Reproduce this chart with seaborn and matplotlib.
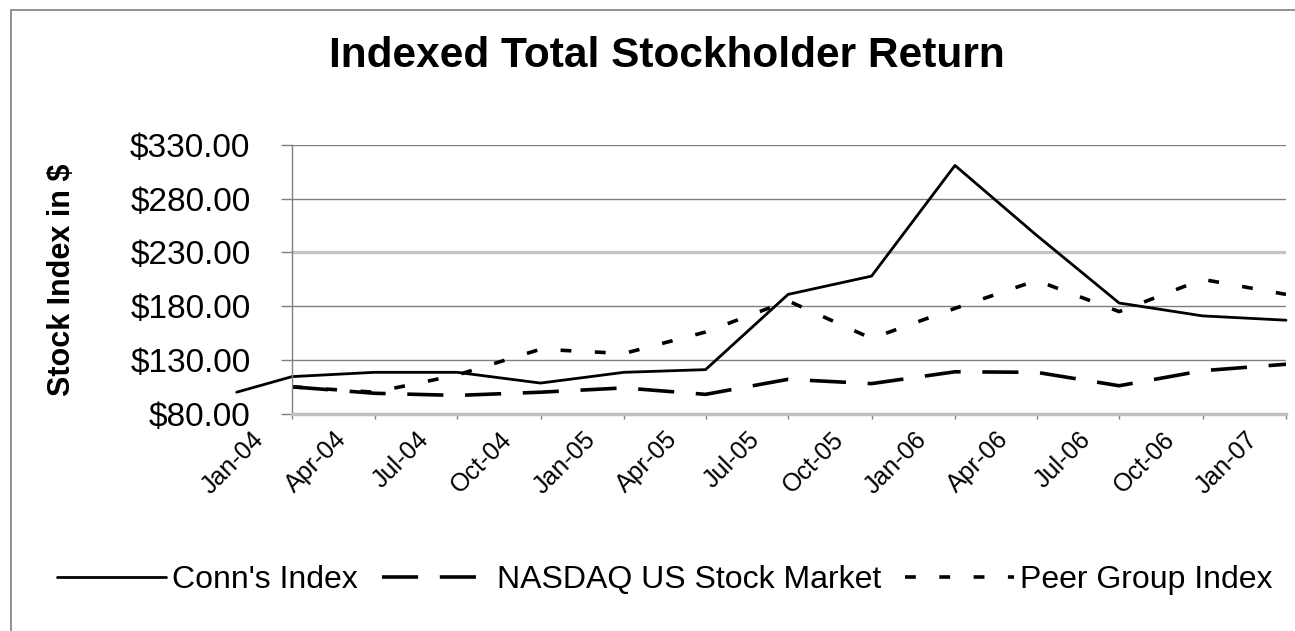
import numpy as np
import pandas as pd
import matplotlib
matplotlib.use("Agg")
import matplotlib.pyplot as plt
import seaborn as sns
from matplotlib.transforms import ScaledTranslation
from matplotlib.lines import Line2D
from matplotlib.ticker import FuncFormatter

# ---------------- data ----------------
tick_labels = ["Jan-04", "Apr-04", "Jul-04", "Oct-04", "Jan-05", "Apr-05", "Jul-05",
               "Oct-05", "Jan-06", "Apr-06", "Jul-06", "Oct-06", "Jan-07"]
quarter_dates = ["2004-01-01", "2004-04-01", "2004-07-01", "2004-10-01", "2005-01-01",
                 "2005-04-01", "2005-07-01", "2005-10-01", "2006-01-01", "2006-04-01",
                 "2006-07-01", "2006-10-01", "2007-01-01"]
conn_dates = ["2003-11-01"] + quarter_dates
conn_values = [100, 114.5, 118.5, 118.5, 108.5, 118.5, 121, 191, 208, 311, 246, 183, 171, 167]
nasdaq_values = [105, 99, 97, 100, 104, 98, 112, 108, 119, 118.5, 106, 120, 126]
peer_values = [105, 100, 116, 140, 136, 156, 185, 150, 178, 204, 175, 205, 191]
y_ticks = [80, 130, 180, 230, 280, 330]
series_names = ["Conn's Index", "NASDAQ US Stock Market", "Peer Group Index"]

# ---------------- style ----------------
sns.set_style("white")
plt.rcParams["font.family"] = ["Liberation Sans", "DejaVu Sans"]
plt.rcParams["text.color"] = "black"
plt.rcParams["axes.labelcolor"] = "black"
plt.rcParams["xtick.labelcolor"] = "black"
plt.rcParams["ytick.labelcolor"] = "black"

W, H, DPI = 1295, 631, 100
fig = plt.figure(figsize=(W / DPI, H / DPI), dpi=DPI)
ax_left, ax_right, ax_top, ax_bot = 292, 1286, 145, 413.7
ax = fig.add_axes([ax_left / W, 1 - ax_bot / H, (ax_right - ax_left) / W, (ax_bot - ax_top) / H])

conn_df = pd.DataFrame({"date": pd.to_datetime(conn_dates), "value": conn_values})
nas_df = pd.DataFrame({"date": pd.to_datetime(quarter_dates), "value": nasdaq_values})
peer_df = pd.DataFrame({"date": pd.to_datetime(quarter_dates), "value": peer_values})

sns.lineplot(data=conn_df, x="date", y="value", ax=ax, color="black", lw=2.0,
             label=series_names[0])
conn_line = ax.lines[-1]
conn_line.set_clip_on(False)
sns.lineplot(data=nas_df, x="date", y="value", ax=ax, color="black", lw=2.6,
             label=series_names[1])
ax.lines[-1].set_dashes((10, 6))
sns.lineplot(data=peer_df, x="date", y="value", ax=ax, color="black", lw=2.6,
             label=series_names[2])
ax.lines[-1].set_dashes((3, 6.5))

ax.set_xlim(pd.Timestamp(quarter_dates[0]), pd.Timestamp(quarter_dates[-1]))
ax.set_ylim(y_ticks[0], y_ticks[-1])

# y axis
ax.set_yticks(y_ticks)
ax.yaxis.set_major_formatter(FuncFormatter(lambda v, p: f"${v:,.2f}"))
ax.tick_params(axis="y", direction="out", length=7.9, width=1, color="#808080",
               labelsize=24, pad=22, left=True, labelcolor="black")
ax.grid(axis="y", color="#808080", lw=1)
ax.grid(axis="x", visible=False)
for gl, v in zip(ax.yaxis.get_gridlines(), y_ticks):
    if v == 230:
        gl.set_color("#c4c4c4")
        gl.set_linewidth(2.4)
ax.set_ylabel("Stock Index in $", fontsize=22, fontweight="bold", color="black")
ax.yaxis.set_label_coords((77 - ax_left) / (ax_right - ax_left), 0.5)

# x axis
ax.set_xticks(pd.to_datetime(quarter_dates))
ax.set_xticklabels(tick_labels)
ax.set_xlabel("")
ax.tick_params(axis="x", direction="out", length=3.6, width=1, color="#808080",
               labelsize=18, pad=15.8, bottom=True, labelcolor="black")
off = ScaledTranslation(-27 / DPI, 0, fig.dpi_scale_trans)
for lab in ax.get_xticklabels():
    lab.set_rotation(45)
    lab.set_rotation_mode("anchor")
    lab.set_ha("right")
    lab.set_va("baseline")
    lab.set_transform(lab.get_transform() + off)

for s in ["top", "right"]:
    ax.spines[s].set_visible(False)
ax.spines["left"].set_color("#808080")
ax.spines["left"].set_linewidth(1)
ax.spines["bottom"].set_color("#c0c0c0")
ax.spines["bottom"].set_linewidth(2.5)

# legend
handles, labels = ax.get_legend_handles_labels()
ax.get_legend().remove()
leg = fig.legend(handles, labels, loc="center", bbox_to_anchor=(665 / W, 1 - 580 / H),
                 ncol=3, frameon=False, fontsize=23, handlelength=3.4,
                 handletextpad=0.2, columnspacing=0.75)
for t in leg.get_texts():
    t.set_color("black")

# title
fig.text(667 / W, 1 - 56 / H, "Indexed Total Stockholder Return", ha="center", va="center",
         fontsize=30.5, fontweight="bold", color="black")

# outer frame (left and top edges)
fig.add_artist(Line2D([11 / W, 11 / W], [0, 1 - 10 / H], transform=fig.transFigure,
                      color="#808080", lw=1.2))
fig.add_artist(Line2D([11 / W, 1], [1 - 10 / H, 1 - 10 / H], transform=fig.transFigure,
                      color="#808080", lw=1.2))

fig.savefig("out.png", dpi=DPI)
